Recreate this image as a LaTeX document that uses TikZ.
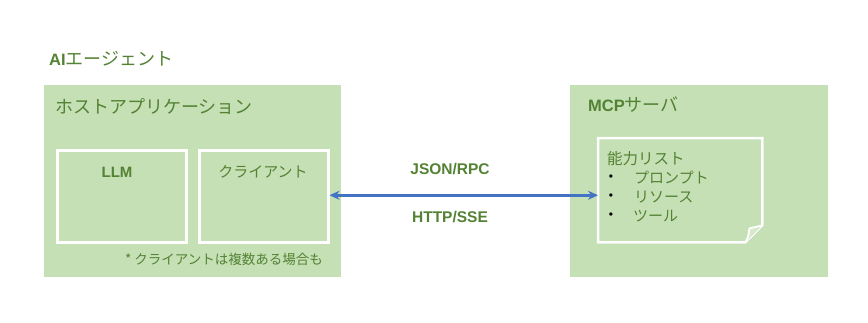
\documentclass[tikz,border=0pt]{standalone}
\usepackage{fontspec}
\setmainfont{Liberation Sans}
\newfontfamily\jp{Noto Sans CJK JP}
\usetikzlibrary{arrows.meta,shadows}
\definecolor{boxgreen}{HTML}{C5E0B4}
\definecolor{txtgreen}{HTML}{548235}
\definecolor{arrowblue}{HTML}{4472C4}
\tikzset{
  panel/.style={fill=boxgreen, draw=white, line width=2.5pt, rectangle, inner sep=0pt,
    anchor=north west,
    drop shadow={shadow xshift=1pt, shadow yshift=-1pt, opacity=0.4, fill=gray}},
  txt/.style={text=txtgreen, inner sep=0pt},
  flow/.style={draw=arrowblue, line width=2.6pt,
    {Stealth[length=10pt,width=9pt]}-{Stealth[length=10pt,width=9pt]}},
}
\newcommand{\jpsz}[1]{\jp\fontsize{#1}{#1}\selectfont}
\newcommand{\lasz}[1]{\fontsize{#1}{#1}\selectfont\bfseries}
\begin{document}
\begin{tikzpicture}[x=1pt,y=-1pt]
\useasboundingbox (0,0) rectangle (868,322);
% panels
\node[panel, minimum width=300pt, minimum height=195pt] (host) at (41,82) {};
\node[panel, minimum width=261pt, minimum height=195pt] (server) at (567,82) {};
\node[panel, minimum width=129pt, minimum height=92pt] (llm) at (56,149) {};
\node[panel, minimum width=129pt, minimum height=92pt] (client) at (198,149) {};
% note (invisible frame node + drawn shape)
\node[rectangle, inner sep=0pt, anchor=north west, minimum width=164pt, minimum height=104pt] (note) at (598,138) {};
\path[fill=boxgreen, draw=white, line width=2.5pt, line join=miter,
  drop shadow={shadow xshift=1pt, shadow yshift=-1pt, opacity=0.4, fill=gray}]
  (note.north west) -- (note.north east) -- ([yshift=17pt]note.south east)
  -- ([xshift=-17pt]note.south east) -- (note.south west) -- cycle;
\draw[white, line width=1.8pt, fill=boxgreen!70!white, line join=round]
  ([xshift=-17pt]note.south east) .. controls ([xshift=-14pt,yshift=6pt]note.south east) ..
  ([xshift=-13pt,yshift=14pt]note.south east) -- ([yshift=17pt]note.south east);
% texts
\node[txt, anchor=west] (title) at (49,59) {{\lasz{16.5}AI}{\jpsz{18}エージェント}};
\node[txt, anchor=west] (hostlbl) at (55,107) {\jpsz{18}ホストアプリケーション};
\node[txt] (llmlbl) at (117,172) {\lasz{15}LLM};
\node[txt] (clientlbl) at (263,172) {\jpsz{15}クライアント};
\node[txt, anchor=east] (foot) at (323,259) {\jpsz{13.5}* クライアントは複数ある場合も};
\node[txt, anchor=west] (mcplbl) at (588,105) {{\lasz{16.5}MCP}{\jpsz{18}サーバ}};
\node[txt, anchor=west] (cap) at (607,159) {\jpsz{15.5}能力リスト};
\node[inner sep=0pt] (b1) at (611,178) {\fontsize{12}{12}\selectfont •};
\node[inner sep=0pt] (b2) at (611,197) {\fontsize{12}{12}\selectfont •};
\node[inner sep=0pt] (b3) at (611,216) {\fontsize{12}{12}\selectfont •};
\node[txt, anchor=west] (i1) at (634,178) {\jpsz{15}プロンプト};
\node[txt, anchor=west] (i2) at (634,197) {\jpsz{15}リソース};
\node[txt, anchor=west] (i3) at (633,216) {\jpsz{15}ツール};
\node[txt] (json) at (450,169) {\lasz{15.5}JSON/RPC};
\node[txt] (http) at (450,217) {\lasz{15.5}HTTP/SSE};
% connector
\draw[flow] ([yshift=1pt]client.east) -- ([yshift=1pt]client.east -| note.west);
\end{tikzpicture}
\end{document}
